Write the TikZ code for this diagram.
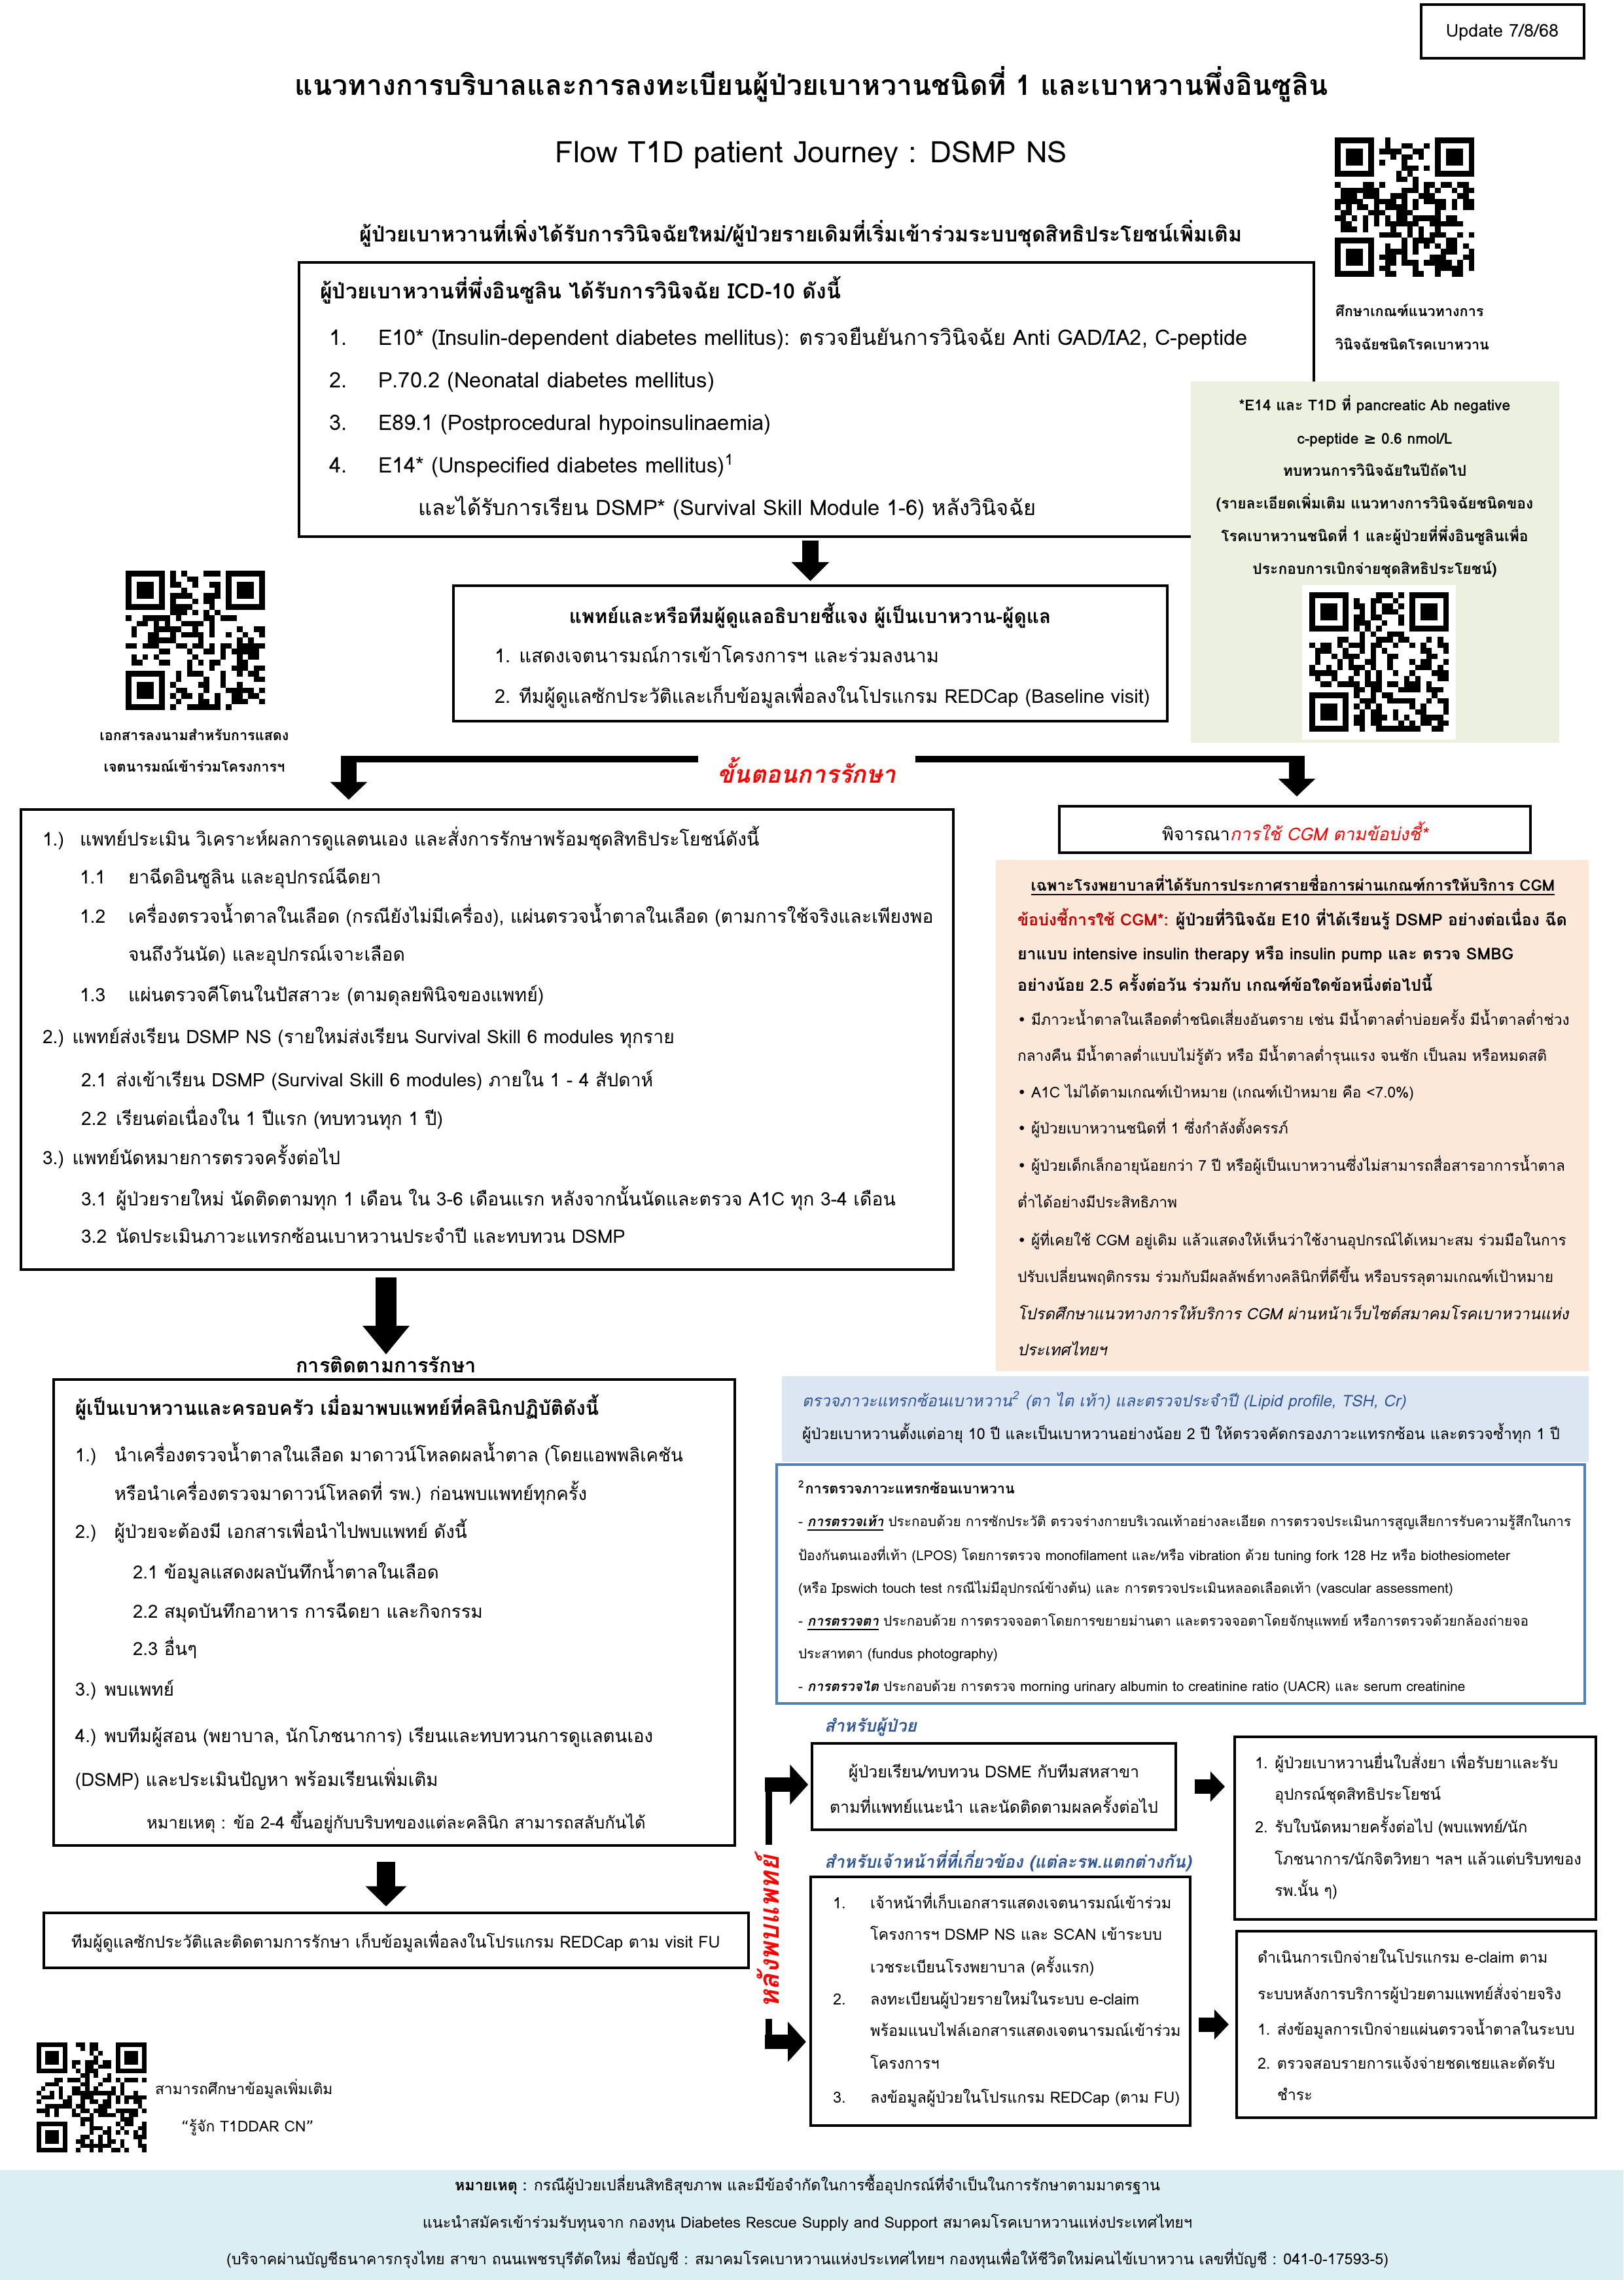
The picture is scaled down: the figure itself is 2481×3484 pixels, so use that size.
\documentclass[tikz,border=0pt]{standalone}
\usepackage{fontspec}
\setmainfont[Script=Thai]{Loma}
\newfontfamily\dejavu{DejaVu Sans}
\usetikzlibrary{arrows.meta,fit,calc}
\definecolor{greenbg}{RGB}{235,241,222}
\definecolor{orangebg}{RGB}{252,232,217}
\definecolor{bluebg}{RGB}{220,230,242}
\definecolor{footbg}{RGB}{218,238,243}
\definecolor{bordblue}{RGB}{79,129,189}
\definecolor{titblue}{RGB}{47,84,150}
\definecolor{dred}{RGB}{192,0,0}
\newcommand\fs[1]{\fontsize{#1pt}{#1pt}\selectfont}
\newcommand\qrpat[4]{%
  \pgfmathsetseed{#4}%
  \pgfmathsetmacro\qm{#3/25}%
  \foreach \i in {0,...,24}{\foreach \j in {0,...,24}{%
    \pgfmathtruncatemacro\qskip{or(and(\i<8,\j<8),or(and(\i>16,\j<8),and(\i<8,\j>16)))}%
    \pgfmathtruncatemacro\qon{rnd<0.48}%
    \ifnum\qskip=0 \ifnum\qon=1 \fill (#1+\i*\qm,#2+\j*\qm) rectangle ++(\qm,\qm);\fi\fi
  }}%
  \foreach \fx/\fy in {0/0,18/0,0/18}{%
    \fill (#1+\fx*\qm,#2+\fy*\qm) rectangle ++(7*\qm,7*\qm);
    \fill[white] (#1+\fx*\qm+\qm,#2+\fy*\qm+\qm) rectangle ++(5*\qm,5*\qm);
    \fill (#1+\fx*\qm+2*\qm,#2+\fy*\qm+2*\qm) rectangle ++(3*\qm,3*\qm);
  }%
}
\begin{document}
\begin{tikzpicture}[x=0.24028pt,y=-0.24028pt,
  t/.style={inner sep=0pt, outer sep=0pt, anchor=base west},
  tc/.style={inner sep=0pt, outer sep=0pt, anchor=base},
  box/.style={draw=black, line width=0.75pt, inner sep=0pt, outer sep=0pt},
  bg/.style={draw=none, inner sep=0pt, outer sep=0pt},
  arA/.style={line width=6pt, -{Triangle[width=13.5pt,length=7pt]}},
  arS/.style={line width=5.8pt, -{Triangle[width=13.2pt,length=6.5pt]}},
  arB/.style={line width=7.7pt, -{Triangle[width=16.5pt,length=10.5pt]}},
  arC/.style={line width=6.5pt, -{Triangle[width=14.7pt,length=7.4pt]}},
  arBr/.style={line width=5.5pt, -{Triangle[width=14.4pt,length=6.7pt]}},
  arK/.style={line width=5.3pt, -{Triangle[width=10.8pt,length=5.3pt]}},
  lbl/.style={font=\fs{6.3}\bfseries\itshape, text=titblue}
]
\useasboundingbox (0,0) rectangle (2481,3484);
\fill[white] (0,0) rectangle (2481,3484);

% ---------- backgrounds / boxes ----------
\node[bg, fill=footbg, fit={(0,3316)(2481,3484)}] (footer) {};
\node[box, fit={(2172,7)(2421,89)}] (update) {};
\node[box, fit={(457,401)(2008,820)}] (icd) {};
\node[bg, fill=greenbg, fit={(1820,583)(2383,1135)}] (green) {};
\node[box, fit={(693,895)(1784,1102)}] (doc) {};
\node[box, fit={(32,1237)(1457,1940)}] (step1) {};
\node[box, fit={(1619,1232)(2339,1303)}] (cgm) {};
\node[bg, fill=orangebg, fit={(1522,1314)(2428,2095)}] (orange) {};
\node[bg, fill=bluebg, fit={(1195,2103)(2428,2234)}] (bluebox) {};
\node[box, draw=bordblue, fit={(1187,2238)(2422,2603)}] (comp) {};
\node[box, fit={(82,2108)(1123,2820)}] (follow) {};
\node[box, fit={(67,2923)(1144,3007)}] (fubox) {};
\node[box, fit={(1241,2664)(1797,2796)}] (patient) {};
\node[box, fit={(1239,2868)(1819,3248)}] (staff) {};
\node[box, fit={(1887,2654)(2439,2933)}] (boxA) {};
\node[box, fit={(1890,2951)(2439,3236)}] (boxB) {};

% ---------- QR codes ----------
\qrpat{2040}{210}{213}{11}
\fill[white] (1990,894) rectangle (2225,1130);
\qrpat{2001}{905}{213}{23}
\qrpat{192}{872}{213}{37}
\qrpat{56}{3121}{168}{51}

% ---------- header ----------
\node[tc, font=\fs{6.5}] (tupd) at (2296,56) {Update 7/8/68};
\node[tc, font=\fs{10.3}\bfseries] (title) at (1240,145) {แนวทางการบริบาลและการลงทะเบียนผู้ป่วยเบาหวานชนิดที่ 1 และเบาหวานพึ่งอินซูลิน};
\node[tc, font=\fs{10.9}] (flow) at (1240,248) {Flow T1D patient Journey : DSMP NS};
\node[tc, font=\fs{7.7}\bfseries] (sub) at (1224,369) {ผู้ป่วยเบาหวานที่เพิ่งได้รับการวินิจฉัยใหม่/ผู้ป่วยรายเดิมที่เริ่มเข้าร่วมระบบชุดสิทธิประโยชน์เพิ่มเติม};
\node[t, font=\fs{5.2}\bfseries] (qc1) at (2041,483) {ศึกษาเกณฑ์แนวทางการ};
\node[t, font=\fs{5.2}\bfseries] (qc2) at (2041,534) {วินิจฉัยชนิดโรคเบาหวาน};

% ---------- ICD box ----------
\node[t, font=\fs{7.75}\bfseries] (i0) at (489,456) {ผู้ป่วยเบาหวานที่พึ่งอินซูลิน ได้รับการวินิจฉัย ICD-10 ดังนี้};
\node[t, font=\fs{7.85}] (i1n) at (503,527) {1.};
\node[t, font=\fs{7.85}] (i1) at (578,527) {E10* (Insulin-dependent diabetes mellitus): ตรวจยืนยันการวินิจฉัย Anti GAD/IA2, C-peptide};
\node[t, font=\fs{7.85}] (i2n) at (503,592) {2.};
\node[t, font=\fs{7.85}] (i2) at (578,592) {P.70.2 (Neonatal diabetes mellitus)};
\node[t, font=\fs{7.85}] (i3n) at (503,657) {3.};
\node[t, font=\fs{7.85}] (i3) at (578,657) {E89.1 (Postprocedural hypoinsulinaemia)};
\node[t, font=\fs{7.85}] (i4n) at (503,722) {4.};
\node[t, font=\fs{7.85}] (i4) at (578,722) {E14* (Unspecified diabetes mellitus)\textsuperscript{1}};
\node[t, font=\fs{7.85}] (i5) at (639,787) {และได้รับการเรียน DSMP* (Survival Skill Module 1-6) หลังวินิจฉัย};

% ---------- green note ----------
\node[tc, font=\fs{5.5}\bfseries] (g1) at (2101,627) {*E14 และ T1D ที่ pancreatic Ab negative};
\node[tc, font=\fs{5.5}\bfseries] (g2) at (2101,678) {c-peptide {\dejavu ≥} 0.6 nmol/L};
\node[tc, font=\fs{5.5}\bfseries] (g3) at (2101,727) {ทบทวนการวินิจฉัยในปีถัดไป};
\node[tc, font=\fs{5.5}\bfseries] (g4) at (2101,777) {(รายละเอียดเพิ่มเติม แนวทางการวินิจฉัยชนิดของ};
\node[tc, font=\fs{5.5}\bfseries] (g5) at (2101,827) {โรคเบาหวานชนิดที่ 1 และผู้ป่วยที่พึ่งอินซูลินเพื่อ};
\node[tc, font=\fs{5.5}\bfseries] (g6) at (2101,877) {ประกอบการเบิกจ่ายชุดสิทธิประโยชน์)};

% ---------- doctor box ----------
\node[tc, font=\fs{7.15}\bfseries] (d0) at (1238,952) {แพทย์และหรือทีมผู้ดูแลอธิบายชี้แจง ผู้เป็นเบาหวาน-ผู้ดูแล};
\node[t, font=\fs{7}] (d1) at (756,1012) {1. แสดงเจตนารมณ์การเข้าโครงการฯ และร่วมลงนาม};
\node[t, font=\fs{7}] (d2) at (756,1074) {2. ทีมผู้ดูแลซักประวัติและเก็บข้อมูลเพื่อลงในโปรแกรม REDCap (Baseline visit)};
\node[tc, font=\fs{5.2}\bfseries] (lq1) at (297,1131) {เอกสารลงนามสำหรับการแสดง};
\node[tc, font=\fs{5.2}\bfseries] (lq2) at (297,1179) {เจตนารมณ์เข้าร่วมโครงการฯ};

% ---------- arrows top ----------
\draw[arA, shorten <=1.4pt, shorten >=1.7pt] (icd.south -| doc.north) -- (doc.north);
\coordinate (spL) at (533,1156);
\coordinate (spR) at (1982,1156);
\draw[line width=2.4pt] ($(spL)+(-12,4)$) -- ($(spR)+(12,4)$);
\draw[arS, shorten >=3.6pt] (spL) -- (spL |- step1.north);
\draw[arS, shorten >=3.6pt] (spR) -- (spR |- cgm.north);
\node[fill=white, inner xsep=7pt, inner ysep=1pt, font=\fs{8.9}\bfseries\itshape, text=red] (treat) at (1233,1177) {ขั้นตอนการรักษา};

% ---------- step 1 box ----------
\node[t, font=\fs{6.8}] (s1n) at (65,1292) {1.)};
\node[t, font=\fs{6.8}] (s1) at (122,1292) {แพทย์ประเมิน วิเคราะห์ผลการดูแลตนเอง และสั่งการรักษาพร้อมชุดสิทธิประโยชน์ดังนี้};
\node[t, font=\fs{6.8}] (s11n) at (122,1350) {1.1};
\node[t, font=\fs{6.8}] (s11) at (196,1350) {ยาฉีดอินซูลิน และอุปกรณ์ฉีดยา};
\node[t, font=\fs{6.8}] (s12n) at (122,1410) {1.2};
\node[t, font=\fs{6.8}] (s12) at (196,1410) {เครื่องตรวจน้ำตาลในเลือด (กรณียังไม่มีเครื่อง), แผ่นตรวจน้ำตาลในเลือด (ตามการใช้จริงและเพียงพอ};
\node[t, font=\fs{6.8}] (s12b) at (196,1468) {จนถึงวันนัด) และอุปกรณ์เจาะเลือด};
\node[t, font=\fs{6.8}] (s13n) at (122,1530) {1.3};
\node[t, font=\fs{6.8}] (s13) at (196,1530) {แผ่นตรวจคีโตนในปัสสาวะ (ตามดุลยพินิจของแพทย์)};
\node[t, font=\fs{6.8}] (s2) at (65,1594) {2.) แพทย์ส่งเรียน DSMP NS (รายใหม่ส่งเรียน Survival Skill 6 modules ทุกราย};
\node[t, font=\fs{6.8}] (s21n) at (124,1660) {2.1};
\node[t, font=\fs{6.8}] (s21) at (177,1660) {ส่งเข้าเรียน DSMP (Survival Skill 6 modules) ภายใน 1 - 4 สัปดาห์};
\node[t, font=\fs{6.8}] (s22n) at (124,1719) {2.2};
\node[t, font=\fs{6.8}] (s22) at (177,1719) {เรียนต่อเนื่องใน 1 ปีแรก (ทบทวนทุก 1 ปี)};
\node[t, font=\fs{6.8}] (s3) at (65,1779) {3.) แพทย์นัดหมายการตรวจครั้งต่อไป};
\node[t, font=\fs{6.8}] (s31n) at (124,1842) {3.1};
\node[t, font=\fs{6.8}] (s31) at (177,1842) {ผู้ป่วยรายใหม่ นัดติดตามทุก 1 เดือน ใน 3-6 เดือนแรก หลังจากนั้นนัดและตรวจ A1C ทุก 3-4 เดือน};
\node[t, font=\fs{6.8}] (s32n) at (124,1899) {3.2};
\node[t, font=\fs{6.8}] (s32) at (177,1899) {นัดประเมินภาวะแทรกซ้อนเบาหวานประจำปี และทบทวน DSMP};

% ---------- CGM ----------
\node[tc, font=\fs{6.5}] (c0) at (1979,1284) {พิจารณา{\color{red}\itshape การใช้ CGM ตามข้อบ่งชี้*}};
\node[tc, font=\fs{5.7}\bfseries] (o0) at (1976,1361) {\underline{เฉพาะโรงพยาบาลที่ได้รับการประกาศรายชื่อการผ่านเกณฑ์การให้บริการ CGM}};
\node[t, font=\fs{6}\bfseries] (o1) at (1555,1414) {{\color{dred}ข้อบ่งชี้การใช้ CGM*:} ผู้ป่วยที่วินิจฉัย E10 ที่ได้เรียนรู้ DSMP อย่างต่อเนื่อง ฉีด};
\node[t, font=\fs{6}\bfseries] (o2) at (1555,1466) {ยาแบบ intensive insulin therapy หรือ insulin pump และ ตรวจ SMBG};
\node[t, font=\fs{6}\bfseries] (o3) at (1555,1514) {อย่างน้อย 2.5 ครั้งต่อวัน ร่วมกับ เกณฑ์ข้อใดข้อหนึ่งต่อไปนี้};
\node[t, font=\fs{5.47}] (o4) at (1555,1566) {{\dejavu •} มีภาวะน้ำตาลในเลือดต่ำชนิดเสี่ยงอันตราย เช่น มีน้ำตาลต่ำบ่อยครั้ง มีน้ำตาลต่ำช่วง};
\node[t, font=\fs{5.47}] (o5) at (1555,1621) {กลางคืน มีน้ำตาลต่ำแบบไม่รู้ตัว หรือ มีน้ำตาลต่ำรุนแรง จนชัก เป็นลม หรือหมดสติ};
\node[t, font=\fs{5.47}] (o6) at (1555,1677) {{\dejavu •} A1C ไม่ได้ตามเกณฑ์เป้าหมาย (เกณฑ์เป้าหมาย คือ <7.0\%)};
\node[t, font=\fs{5.47}] (o7) at (1555,1732) {{\dejavu •} ผู้ป่วยเบาหวานชนิดที่ 1 ซึ่งกำลังตั้งครรภ์};
\node[t, font=\fs{5.47}] (o8) at (1555,1789) {{\dejavu •} ผู้ป่วยเด็กเล็กอายุน้อยกว่า 7 ปี หรือผู้เป็นเบาหวานซึ่งไม่สามารถสื่อสารอาการน้ำตาล};
\node[t, font=\fs{5.47}] (o9) at (1555,1845) {ต่ำได้อย่างมีประสิทธิภาพ};
\node[t, font=\fs{5.47}] (o10) at (1555,1903) {{\dejavu •} ผู้ที่เคยใช้ CGM อยู่เดิม แล้วแสดงให้เห็นว่าใช้งานอุปกรณ์ได้เหมาะสม  ร่วมมือในการ};
\node[t, font=\fs{5.47}] (o11) at (1555,1959) {ปรับเปลี่ยนพฤติกรรม ร่วมกับมีผลลัพธ์ทางคลินิกที่ดีขึ้น หรือบรรลุตามเกณฑ์เป้าหมาย};
\node[t, font=\fs{5.8}\itshape] (o12) at (1555,2016) {โปรดศึกษาแนวทางการให้บริการ CGM ผ่านหน้าเว็บไซต์สมาคมโรคเบาหวานแห่ง};
\node[t, font=\fs{5.8}\itshape] (o13) at (1555,2071) {ประเทศไทยฯ};

% ---------- complications ----------
\node[t, font=\fs{5.9}\itshape, text=titblue] (b1) at (1226,2149) {ตรวจภาวะแทรกซ้อนเบาหวาน\textsuperscript{2} (ตา ไต เท้า) และตรวจประจำปี (Lipid profile, TSH, Cr)};
\node[t, font=\fs{5.6}] (b2) at (1226,2199) {ผู้ป่วยเบาหวานตั้งแต่อายุ 10 ปี และเป็นเบาหวานอย่างน้อย 2 ปี ให้ตรวจคัดกรองภาวะแทรกซ้อน และตรวจซ้ำทุก 1 ปี};
\node[t, font=\fs{5.2}\bfseries] (k0) at (1220,2282) {\textsuperscript{2}การตรวจภาวะแทรกซ้อนเบาหวาน};
\node[t, font=\fs{5}] (k1) at (1220,2332) {- \underline{\textbf{\textit{การตรวจเท้า}}} ประกอบด้วย การซักประวัติ ตรวจร่างกายบริเวณเท้าอย่างละเอียด การตรวจประเมินการสูญเสียการรับความรู้สึกในการ};
\node[t, font=\fs{5}] (k2) at (1220,2384) {ป้องกันตนเองที่เท้า (LPOS) โดยการตรวจ  monofilament และ/หรือ vibration ด้วย tuning fork 128 Hz หรือ biothesiometer};
\node[t, font=\fs{5}] (k3) at (1220,2434) {(หรือ Ipswich touch test กรณีไม่มีอุปกรณ์ข้างต้น) และ การตรวจประเมินหลอดเลือดเท้า (vascular assessment)};
\node[t, font=\fs{5}] (k4) at (1220,2484) {- \underline{\textbf{\textit{การตรวจตา}}} ประกอบด้วย  การตรวจจอตาโดยการขยายม่านตา  และตรวจจอตาโดยจักษุแพทย์  หรือการตรวจด้วยกล้องถ่ายจอ};
\node[t, font=\fs{5}] (k5) at (1220,2534) {ประสาทตา (fundus photography)};
\node[t, font=\fs{5}] (k6) at (1220,2584) {- \textbf{\textit{การตรวจไต}} ประกอบด้วย การตรวจ morning urinary albumin to creatinine ratio (UACR) และ serum creatinine};

% ---------- follow-up ----------
\node[tc, font=\fs{7.4}\bfseries] (fuTitle) at (590,2097) {การติดตามการรักษา};
\draw[arB, shorten <=2.9pt, shorten >=0.5pt] (step1.south -| fuTitle.north) -- (fuTitle.north);
\node[t, font=\fs{7.15}\bfseries] (f0) at (115,2162) {ผู้เป็นเบาหวานและครอบครัว เมื่อมาพบแพทย์ที่คลินิกปฏิบัติดังนี้};
\node[t, font=\fs{6.65}] (f1n) at (115,2233) {1.)};
\node[t, font=\fs{6.65}] (f1) at (175,2233) {นำเครื่องตรวจน้ำตาลในเลือด มาดาวน์โหลดผลน้ำตาล (โดยแอพพลิเคชัน};
\node[t, font=\fs{6.65}] (f1b) at (175,2292) {หรือนำเครื่องตรวจมาดาวน์โหลดที่ รพ.) ก่อนพบแพทย์ทุกครั้ง};
\node[t, font=\fs{6.65}] (f2n) at (115,2350) {2.)};
\node[t, font=\fs{6.65}] (f2) at (175,2350) {ผู้ป่วยจะต้องมี เอกสารเพื่อนำไปพบแพทย์ ดังนี้};
\node[t, font=\fs{6.65}] (f21) at (203,2412) {2.1 ข้อมูลแสดงผลบันทึกน้ำตาลในเลือด};
\node[t, font=\fs{6.65}] (f22) at (203,2472) {2.2 สมุดบันทึกอาหาร การฉีดยา และกิจกรรม};
\node[t, font=\fs{6.65}] (f23) at (203,2529) {2.3 อื่นๆ};
\node[t, font=\fs{6.65}] (f3) at (115,2591) {3.) พบแพทย์};
\node[t, font=\fs{6.65}] (f4) at (115,2662) {4.) พบทีมผู้สอน (พยาบาล, นักโภชนาการ) เรียนและทบทวนการดูแลตนเอง};
\node[t, font=\fs{6.65}] (f4b) at (115,2729) {(DSMP) และประเมินปัญหา พร้อมเรียนเพิ่มเติม};
\node[t, font=\fs{6.15}] (fn) at (224,2794) {หมายเหตุ : ข้อ 2-4 ขึ้นอยู่กับบริบทของแต่ละคลินิก สามารถสลับกันได้};

\draw[arC, shorten <=6pt, shorten >=2.4pt] (follow.south -| fuTitle.south) -- (fuTitle.south |- fubox.north);
\node[tc, font=\fs{6}] (fu1) at (605,2976) {ทีมผู้ดูแลซักประวัติและติดตามการรักษา เก็บข้อมูลเพื่อลงในโปรแกรม REDCap ตาม visit FU};

\node[t, font=\fs{5.5}] (bq1) at (237,3200) {สามารถศึกษาข้อมูลเพิ่มเติม};
\node[t, font=\fs{5.5}] (bq2) at (277,3257) {{\dejavu “}รู้จัก T1DDAR CN{\dejavu ”}};

% ---------- after doctor branch ----------
\coordinate (brT) at (1175,2727);
\coordinate (brB) at (1175,3120);
\draw[line width=2.6pt] ($(brT)+(0,-10)$) -- ($(brB)+(0,10)$);
\draw[arBr, shorten >=1.4pt] ($(brT)+(-6,0)$) -- (brT -| patient.west);
\draw[arBr, shorten >=1.7pt] ($(brB)+(-6,0)$) -- (brB -| staff.west);
\node[rotate=90, fill=white, inner xsep=4pt, inner ysep=0pt, font=\fs{10}\bfseries\itshape, text=red] (after) at (1172,2952) {หลังพบแพทย์};

\node[t, lbl] (lp) at (1260,2646) {สำหรับผู้ป่วย};
\node[t, lbl] (ls) at (1260,2854) {สำหรับเจ้าหน้าที่ที่เกี่ยวข้อง (แต่ละรพ.แตกต่างกัน)};

\node[tc, font=\fs{6}] (p1) at (1519,2716) {ผู้ป่วยเรียน/ทบทวน DSME กับทีมสหสาขา};
\node[tc, font=\fs{6}] (p2) at (1519,2770) {ตามที่แพทย์แนะนำ และนัดติดตามผลครั้งต่อไป};

\node[t, font=\fs{5.65}] (st1n) at (1273,2916) {1.};
\node[t, font=\fs{5.65}] (st1) at (1330,2916) {เจ้าหน้าที่เก็บเอกสารแสดงเจตนารมณ์เข้าร่วม};
\node[t, font=\fs{5.65}] (st1b) at (1330,2964) {โครงการฯ DSMP NS และ  SCAN เข้าระบบ};
\node[t, font=\fs{5.65}] (st1c) at (1330,3014) {เวชระเบียนโรงพยาบาล (ครั้งแรก)};
\node[t, font=\fs{5.65}] (st2n) at (1273,3063) {2.};
\node[t, font=\fs{5.65}] (st2) at (1330,3063) {ลงทะเบียนผู้ป่วยรายใหม่ในระบบ e-claim};
\node[t, font=\fs{5.65}] (st2b) at (1330,3111) {พร้อมแนบไฟล์เอกสารแสดงเจตนารมณ์เข้าร่วม};
\node[t, font=\fs{5.65}] (st2c) at (1330,3161) {โครงการฯ};
\node[t, font=\fs{5.65}] (st3n) at (1273,3213) {3.};
\node[t, font=\fs{5.65}] (st3) at (1330,3213) {ลงข้อมูลผู้ป่วยในโปรแกรม  REDCap (ตาม FU)};

\draw[arK, shorten <=7pt, shorten >=3.6pt] (patient.east) -- (patient.east -| boxA.west);
\draw[arK, shorten <=3.1pt, shorten >=2.9pt] (boxB.west -| staff.east) -- (boxB.west);

\node[t, font=\fs{5.7}] (a1) at (1918,2702) {1. ผู้ป่วยเบาหวานยื่นใบสั่งยา เพื่อรับยาและรับ};
\node[t, font=\fs{5.7}] (a1b) at (1948,2750) {อุปกรณ์ชุดสิทธิประโยชน์};
\node[t, font=\fs{5.7}] (a2) at (1918,2800) {2. รับใบนัดหมายครั้งต่อไป (พบแพทย์/นัก};
\node[t, font=\fs{5.7}] (a2b) at (1948,2849) {โภชนาการ/นักจิตวิทยา ฯลฯ แล้วแต่บริบทของ};
\node[t, font=\fs{5.7}] (a2c) at (1948,2897) {รพ.นั้น ๆ)};

\node[t, font=\fs{5.6}] (e0) at (1922,2999) {ดำเนินการเบิกจ่ายในโปรแกรม  e-claim ตาม};
\node[t, font=\fs{5.6}] (e0b) at (1922,3055) {ระบบหลังการบริการผู้ป่วยตามแพทย์สั่งจ่ายจริง};
\node[t, font=\fs{5.6}] (e1) at (1922,3109) {1. ส่งข้อมูลการเบิกจ่ายแผ่นตรวจน้ำตาลในระบบ};
\node[t, font=\fs{5.6}] (e2) at (1922,3161) {2. ตรวจสอบรายการแจ้งจ่ายชดเชยและตัดรับ};
\node[t, font=\fs{5.6}] (e2b) at (1952,3209) {ชำระ};

% ---------- footer ----------
\node[tc, font=\fs{5.6}] (ft1) at (1234,3347) {\textbf{หมายเหตุ :} กรณีผู้ป่วยเปลี่ยนสิทธิสุขภาพ และมีข้อจำกัดในการซื้ออุปกรณ์ที่จำเป็นในการรักษาตามมาตรฐาน};
\node[tc, font=\fs{5.6}] (ft2) at (1234,3404) {แนะนำสมัครเข้าร่วมรับทุนจาก กองทุน Diabetes Rescue Supply and Support สมาคมโรคเบาหวานแห่งประเทศไทยฯ};
\node[tc, font=\fs{5.6}] (ft3) at (1234,3460) {(บริจาคผ่านบัญชีธนาคารกรุงไทย สาขา ถนนเพชรบุรีตัดใหม่ ชื่อบัญชี : สมาคมโรคเบาหวานแห่งประเทศไทยฯ กองทุนเพื่อให้ชีวิตใหม่คนไข้เบาหวาน  เลขที่บัญชี : 041-0-17593-5)};
\end{tikzpicture}
\end{document}
